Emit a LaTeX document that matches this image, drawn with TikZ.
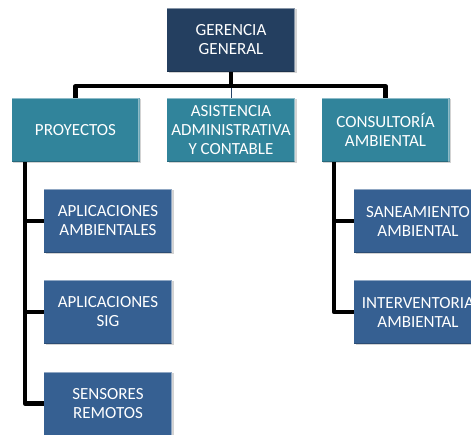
\documentclass[tikz,border=0pt]{standalone}
\usepackage{fontspec}
\setmainfont{Carlito}
\usetikzlibrary{shadows}

\definecolor{azulosc}{RGB}{36,63,96}
\definecolor{verdeazul}{RGB}{49,132,155}
\definecolor{azulmed}{RGB}{54,96,146}

\tikzset{
	caja/.style={minimum width=128pt, minimum height=64pt, inner sep=1pt,
		text=white, align=center, font=\fontsize{17}{19}\selectfont,
		drop shadow={shadow xshift=1.5pt, shadow yshift=-1.5pt, opacity=0.35},
		path picture={
			\draw[white, opacity=0.45, line width=2.5pt]
			(path picture bounding box.north west) -- (path picture bounding box.north east)
			-- (path picture bounding box.south east);
			\draw[black, opacity=0.2, line width=1.5pt]
			(path picture bounding box.south west) -- (path picture bounding box.south east);
		}},
	jefe/.style={caja, fill=azulosc},
	area/.style={caja, fill=verdeazul},
	sub/.style={caja, fill=azulmed},
	tronco/.style={line width=4.5pt, black, line join=round}
}

\begin{document}
\begin{tikzpicture}[x=1pt, y=-1pt]
	\useasboundingbox (0,0) rectangle (471,435);
	
	% Draw top box
	\node[jefe] (gerencia) at (231,40) {GERENCIA\\GENERAL};
	
	% Draw second level
	\node[area] (proyectos) at (75.5,130) {PROYECTOS};
	\node[area] (asistencia) at (231,130) {ASISTENCIA\\ADMINISTRATIVA\\Y CONTABLE};
	\node[area] (consultoria) at (385.5,130) {CONSULTORÍA\\AMBIENTAL};
	
	% Draw third level
	\node[sub] (aplamb) at (108,221) {APLICACIONES\\AMBIENTALES};
	\node[sub] (aplsig) at (108,312) {APLICACIONES\\SIG};
	\node[sub] (sensores) at (108,403.5) {SENSORES\\REMOTOS};
	\node[sub] (saneamiento) at (418,221) {SANEAMIENTO\\AMBIENTAL};
	\node[sub] (interventoria) at (418,312) {INTERVENTORIA\\AMBIENTAL};
	
	% Draw connectors
	\draw[azulmed!70!black, line width=1pt] (gerencia.south) -- (asistencia.north);
	\draw[tronco] (gerencia.south) -- ++(0,14) -| (proyectos.north);
	\draw[tronco] (gerencia.south) -- ++(0,14) -| (consultoria.north);
	
	\foreach \hijo in {aplamb,aplsig,sensores}
	\draw[tronco] ([xshift=-50.5pt]proyectos.south) |- (\hijo.west);
	
	\foreach \hijo in {saneamiento,interventoria}
	\draw[tronco] ([xshift=-51.5pt]consultoria.south) |- (\hijo.west);
	
\end{tikzpicture}
\end{document}
